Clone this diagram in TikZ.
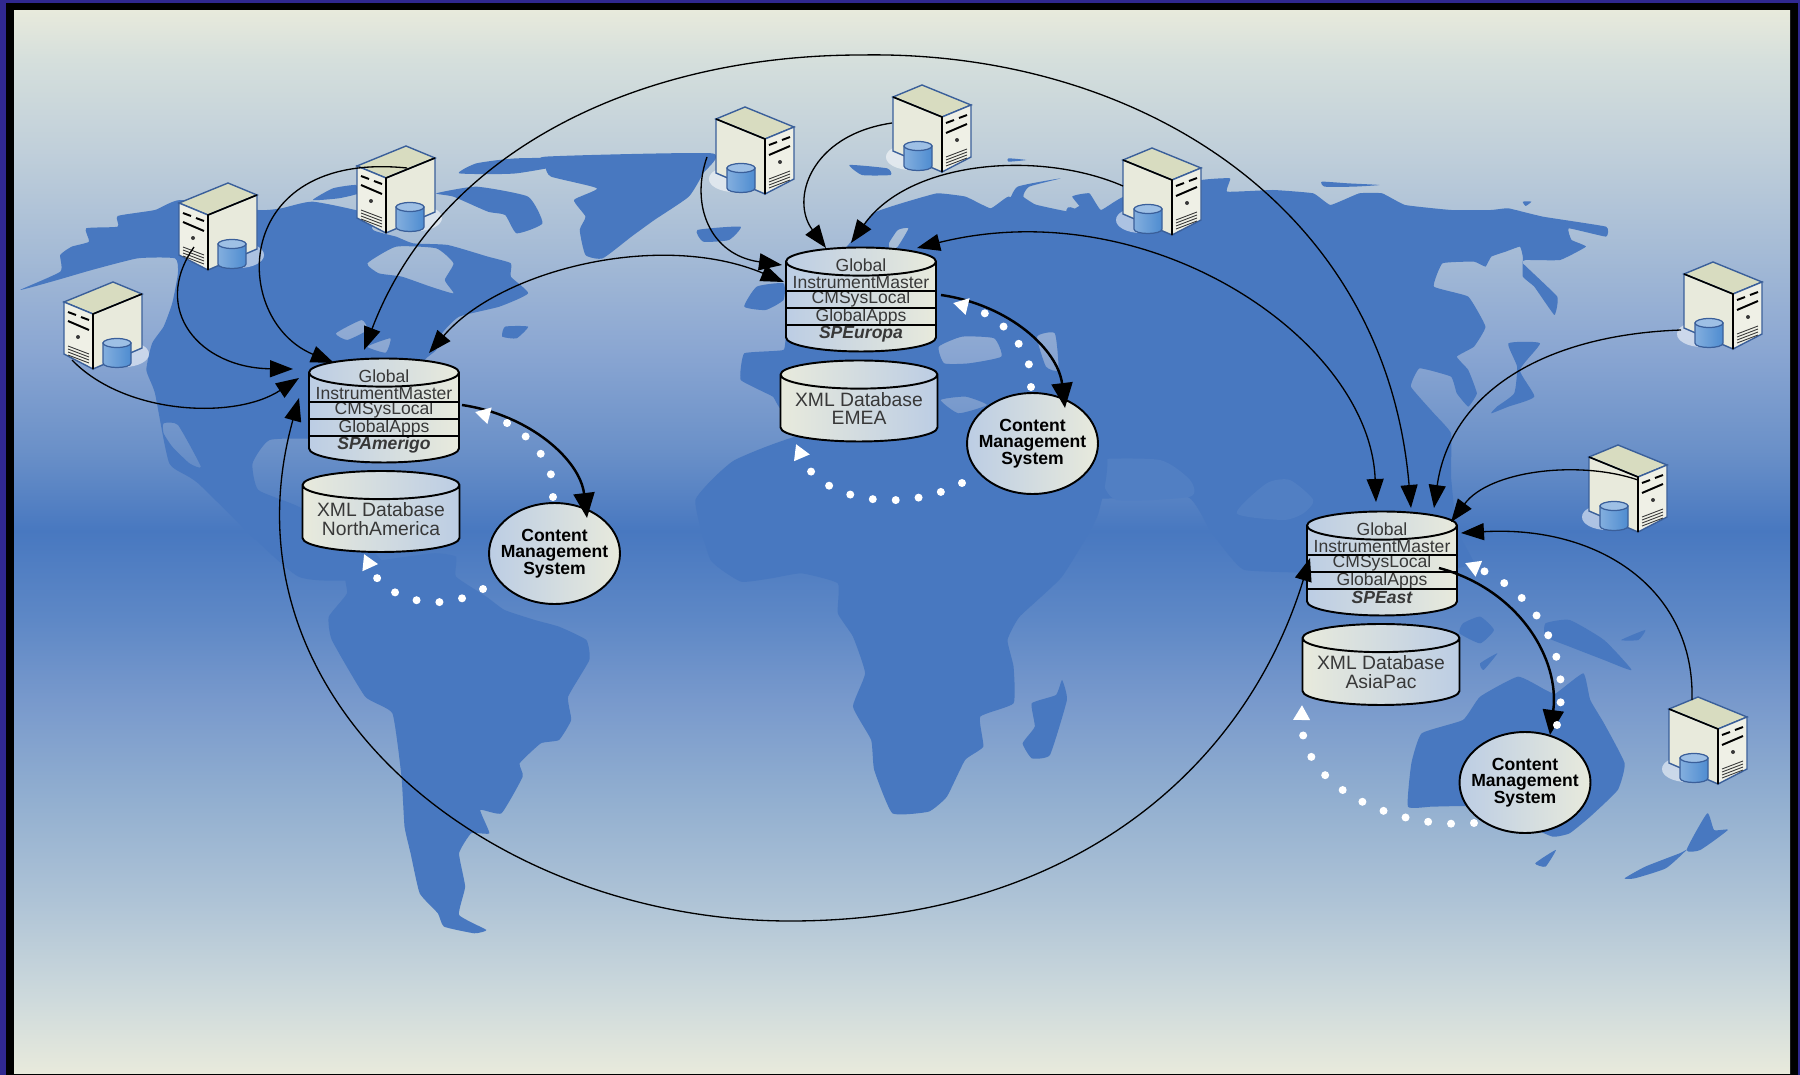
\documentclass[tikz,border=0pt]{standalone}
\usepackage{fontspec}
\setmainfont{Liberation Sans}
\usetikzlibrary{positioning,arrows.meta,shapes.geometric}

\definecolor{frameblue}{HTML}{302890}
\definecolor{mapblue}{HTML}{4878C0}
\definecolor{seapatch}{HTML}{517FC3}
\definecolor{shadeblue}{HTML}{BCCDE4}
\definecolor{shadecream}{HTML}{E8EADC}
\definecolor{labelgrey}{HTML}{383838}
\definecolor{srvedge}{HTML}{3A5F9A}
\definecolor{srvblue}{HTML}{4E8CD0}
\definecolor{srvtop}{HTML}{D8DCC0}
\definecolor{bandA}{HTML}{E8EADC}
\definecolor{bandB}{HTML}{D5DFDC}
\definecolor{bandC}{HTML}{C0CFDA}
\definecolor{bandD}{HTML}{A5BBD6}
\definecolor{bandE}{HTML}{8AA6D2}
\definecolor{bandF}{HTML}{6A90C8}
\definecolor{bandG}{HTML}{4878C0}
\definecolor{bandH}{HTML}{5E88C6}
\definecolor{bandI}{HTML}{7899CC}
\definecolor{bandJ}{HTML}{92AFD0}
\definecolor{bandK}{HTML}{AEC3D6}
\definecolor{bandL}{HTML}{CEDADC}

\pgfdeclareverticalshading{panelfade}{100bp}{%
  color(0bp)=(bandA); color(25bp)=(bandA); color(28.45bp)=(bandL); color(33.15bp)=(bandK); color(37.85bp)=(bandJ);
  color(42.55bp)=(bandI); color(46.3bp)=(bandH); color(50.5bp)=(bandG); color(54.25bp)=(bandF);
  color(58.95bp)=(bandE); color(63.65bp)=(bandD); color(68.35bp)=(bandC); color(72.65bp)=(bandB);
  color(75bp)=(bandA); color(100bp)=(bandA)}

\tikzset{%
  land/.style={fill=mapblue, even odd rule},
  patch/.style={fill=seapatch},
  stackdb/.style={cylinder, shape border rotate=90, draw=black, line width=1.1pt, aspect=.22,
    minimum width=3cm, minimum height=2.08cm, inner sep=0pt,
    left color=shadeblue, right color=shadecream, font=\fontsize{11}{10.6}\selectfont},
  xmldb/.style={cylinder, shape border rotate=90, draw=black, line width=1.1pt, aspect=.22,
    minimum width=3.14cm, minimum height=1.62cm, inner sep=0pt, align=center,
    left color=shadecream, right color=shadeblue, text=labelgrey,
    font=\fontsize{11}{10.6}\selectfont},
  cms/.style={ellipse, draw=black, line width=1.1pt, minimum width=2.62cm, minimum height=2.02cm,
    inner sep=0pt, inner xsep=-.16cm, align=center, left color=shadeblue, right color=shadecream,
    font=\fontsize{10}{9.5}\selectfont\bfseries},
  rowlabel/.style={minimum width=3cm, minimum height=.33cm, inner sep=0pt, text=labelgrey,
    font=\fontsize{10}{12}\selectfont},
  stackrule/.style={draw=black, line width=.9pt},
  srvbox/.style={minimum width=1.56cm, minimum height=1.72cm, inner sep=0pt},
  link/.style={draw=black, line width=.75pt, -{Triangle[length=.46cm,width=.34cm]}},
  twolink/.style={draw=black, line width=.75pt, {Triangle[length=.46cm,width=.34cm]}-{Triangle[length=.46cm,width=.34cm]}},
  feed/.style={draw=black, line width=1.4pt, -{Triangle[length=.5cm,width=.42cm]}},
  dots/.style={draw=white, line width=.16cm, line cap=round, dash pattern=on 0pt off .46cm,
    -{Triangle[length=.3cm,width=.32cm]}},
  srvtower/.pic={
    \fill[white, opacity=.55] (18,72) ellipse [x radius=25, y radius=13];
    \draw[srvedge, line width=.8pt, fill=srvtop] (0,12) -- (29,0) -- (78,20) -- (49,32) -- cycle;
    \draw[srvedge, line width=.8pt, fill=shadecream] (0,12) -- (49,32) -- (49,87) -- (0,66) -- cycle;
    \draw[srvedge, line width=.8pt, fill=shadecream!70!white] (49,32) -- (78,20) -- (78,72) -- (49,87) -- cycle;
    \draw[black, line width=.9pt] (0,12) -- (49,32) -- (49,87);
    \draw[black, line width=1.1pt] (53,38) -- (61,35) (66,33) -- (74,30) (53,48) -- (74,39);
    \fill[labelgrey] (64,55) circle [radius=2];
    \foreach \v in {64,67,70,73}
      \draw[labelgrey, line width=.5pt] (53,\v+8) -- (74,\v);
    \draw[srvedge, line width=.7pt, left color=srvblue!70!white, middle color=white, right color=srvblue]
      (11,61) -- (11,81) .. controls (11,87) and (39,87) .. (39,81) -- (39,61) -- cycle;
    \draw[srvedge, line width=.7pt, fill=srvblue!55!white] (25,61) ellipse [x radius=14, y radius=4.5];
  }
}

\begin{document}
\begin{tikzpicture}[x=.02cm, y=-.02cm]
  \useasboundingbox (0,0) rectangle (1800,1075);
  \fill[frameblue] (0,0) rectangle (1800,1075);
  \fill[black] (6,3) rectangle (1798,1075);
  \shade[shading=panelfade] (14,10) rectangle (1790,1073);

  % map, north america and the arctic
  \begin{scope}[shift={(0,130)}, xscale=.574, yscale=.3333]
    \fill[land] plot[smooth cycle, tension=.3] coordinates {(35,480) (105,425) (105,375) (125,350) (155,335) (150,295) (205,290) (205,258) (270,240) (315,210) (450,240) (490,235) (545,215) (640,250) (650,300) (690,320) (720,340) (780,345) (850,380) (890,400) (890,440) (920,490) (870,530) (800,560) (770,610) (760,660) (740,690) (700,800) (640,1000) (560,930) (470,930) (440,1000) (450,1080) (520,1130) (640,1250) (680,1340) (520,1340) (345,1060) (295,1000) (270,790) (255,720) (265,640) (285,590) (300,520) (310,430) (305,385) (240,385) (160,420) (100,450)}
      plot[smooth cycle, tension=.3] coordinates {(640,400) (690,350) (760,355) (790,400) (775,450) (790,490) (750,470) (700,440) (660,430)}
      plot[smooth cycle, tension=.3] coordinates {(285,880) (310,885) (350,1010) (330,1000) (300,950) (285,910)}
      plot[smooth cycle, tension=.3] coordinates {(585,610) (630,570) (640,600) (605,630)}
      plot[smooth cycle, tension=.3] coordinates {(640,650) (680,625) (672,668)};
    \fill[land] plot[smooth cycle, tension=.3] coordinates {(880,590) (920,590) (900,625) (875,620)};
    \fill[land] plot[smooth cycle, tension=.3] coordinates {(830,100) (900,85) (1040,85) (900,130) (800,130)};
    \fill[land] plot[smooth cycle, tension=.3] coordinates {(545,210) (580,175) (620,165) (625,190) (590,205)};
    \fill[land] plot[smooth cycle, tension=.3] coordinates {(760,190) (830,170) (920,200) (945,280) (900,310) (880,255) (850,245) (790,200)};
    \fill[land] plot[smooth cycle, tension=.3] coordinates {(950,80) (1240,70) (1225,130) (1200,200) (1140,270) (1100,320) (1050,385) (1020,375) (1010,300) (1020,260) (1000,210) (1040,175) (960,140) (950,110)};
    \fill[land] plot[smooth cycle, tension=.3] coordinates {(1215,300) (1290,290) (1270,330) (1225,335)};
  \end{scope}

  % map, europe
  \begin{scope}[shift={(680,80)}, xscale=.357, yscale=.3333]
    \fill[land] plot[smooth cycle, tension=.2] coordinates {(475,490) (540,400) (620,370) (720,340) (800,350) (870,385) (920,350) (1000,375) (1090,395) (1160,380) (1160,1100) (720,1100) (300,1000) (260,950) (170,900) (180,820) (290,810) (300,750) (390,740) (420,560)}
      plot[smooth cycle, tension=.3] coordinates {(585,490) (610,450) (640,445) (610,500) (590,510)}
      plot[smooth cycle, tension=.3] coordinates {(725,800) (790,770) (880,775) (900,830) (810,850) (740,850)}
      plot[smooth cycle, tension=.3] coordinates {(1000,770) (1050,760) (1060,870) (1025,860)}
      plot[smooth cycle, tension=.3] coordinates {(730,960) (800,950) (860,975) (780,1000)};
    \fill[land] plot[smooth cycle, tension=.3] coordinates {(180,680) (215,620) (290,610) (290,660) (240,690)};
    \fill[land] plot[smooth cycle, tension=.3] coordinates {(475,255) (580,265) (590,285) (510,285)};
    \fill[land] plot[smooth cycle, tension=.3] coordinates {(920,235) (970,240) (920,245)};
  \end{scope}

  % map, asia
  \begin{scope}[shift={(900,130)}, xscale=.574, yscale=.3333]
    \fill[land] plot[smooth cycle, tension=.2] coordinates {(290,240) (330,265) (300,200) (330,190) (350,240) (390,200) (525,150) (575,145) (570,185) (650,180) (720,190) (750,225) (800,190) (840,190) (880,225) (960,240) (1030,240) (1060,235) (1120,260) (1230,290) (1230,320) (1165,295) (1170,330) (1195,350) (1150,390) (1090,390) (1085,400) (1145,500) (1140,555) (1105,470) (1085,440) (1085,380) (1080,350) (1055,365) (1030,380) (1020,410) (1000,395) (945,400) (930,470) (990,500) (1020,590) (1000,650) (970,680) (990,720) (1005,790) (990,830) (970,790) (960,740) (905,715) (890,770) (930,850) (960,910) (960,1040) (970,1200) (1000,1300) (950,1320) (800,1330) (600,1320) (540,1200) (500,1100) (290,1100) (290,800)};
    \fill[land] plot[smooth cycle, tension=.3] coordinates {(1060,640) (1115,640) (1080,720) (1105,800) (1060,830) (1030,850) (1040,830) (1070,790) (1075,710)};
    \fill[land] plot[smooth cycle, tension=.3] coordinates {(735,155) (780,160) (835,165) (790,170) (740,170)};
    \fill[land] plot[smooth cycle, tension=.3] coordinates {(1085,215) (1100,215) (1090,228)};
    \fill[land] plot[smooth cycle, tension=.3] coordinates {(190,220) (205,170) (280,145) (225,170) (215,200) (240,230) (210,225)};
  \end{scope}

  % map, lighter water of the indian ocean
  \begin{scope}[shift={(1050,400)}, scale=.3333]
    \fill[patch] plot[smooth cycle, tension=.4] coordinates {(130,180) (330,180) (420,240) (420,290) (200,300) (150,230)};
    \fill[patch] plot[smooth cycle, tension=.4] coordinates {(560,340) (650,250) (720,240) (790,300) (760,340) (700,360)};
  \end{scope}

  % map, south america, africa
  \begin{scope}[shift={(250,500)}, xscale=.606, yscale=.3333]
    \fill[land] plot[smooth cycle, tension=.25] coordinates {(160,280) (130,350) (135,420) (190,590) (235,640) (250,830) (255,980) (265,1060) (280,1180) (310,1240) (320,1280) (370,1300) (390,1290) (345,1245) (355,1160) (345,1060) (365,1000) (395,1000) (380,930) (415,940) (450,830) (445,790) (480,730) (510,720) (530,660) (525,590) (560,480) (555,420) (510,380) (470,360) (420,330) (390,290) (340,230) (340,170) (300,160) (160,200)};
    \fill[land] plot[smooth cycle, tension=.25] coordinates {(735,0) (760,180) (810,245) (860,235) (910,220) (970,250) (970,340) (995,410) (1015,520) (995,620) (1025,720) (1030,810) (1060,940) (1120,935) (1150,890) (1180,780) (1210,740) (1205,650) (1260,610) (1260,500) (1250,420) (1270,350) (1340,230) (1400,40) (1400,-180) (950,-210) (800,-120)};
    \fill[land] plot[smooth cycle, tension=.25] coordinates {(1340,540) (1348,600) (1320,765) (1290,775) (1275,730) (1295,680) (1290,610) (1330,585)};
  \end{scope}

  % map, australia and the islands
  \begin{scope}[shift={(1260,430)}, xscale=.344, yscale=.3333]
    \fill[land] plot[smooth cycle, tension=.25] coordinates {(430,1130) (440,1000) (470,910) (590,870) (640,800) (750,740) (830,780) (860,790) (940,730) (960,810) (1000,880) (1060,1000) (1040,1080) (960,1160) (900,1210) (850,1220) (760,1180) (620,1130) (500,1130)};
    \fill[land] plot[smooth cycle, tension=.3] coordinates {(830,580) (900,570) (1000,630) (1080,720) (1000,690) (900,650) (830,620)};
    \fill[land] plot[smooth cycle, tension=.3] coordinates {(590,580) (640,560) (680,600) (640,640) (580,610)};
    \fill[land] plot[smooth cycle, tension=.3] coordinates {(640,700) (690,670) (650,720)};
    \fill[land] plot[smooth cycle, tension=.3] coordinates {(1050,630) (1120,600) (1100,630)};
    \fill[land] plot[smooth cycle, tension=.3] coordinates {(800,1300) (860,1260) (830,1310)};
    \fill[land] plot[smooth cycle, tension=.3] coordinates {(1240,1260) (1300,1150) (1320,1200) (1360,1200) (1280,1260)};
    \fill[land] plot[smooth cycle, tension=.3] coordinates {(1060,1345) (1120,1310) (1220,1270) (1240,1260) (1180,1315) (1090,1345)};
  \end{scope}

  % servers
  \foreach \n/\x/\y/\f in {NAa/142/282/-1, NAb/257/183/-1, NAc/435/146/-1,
      EUa/716/107/1, EUb/893/85/1, EUc/1123/148/1,
      ASa/1684/262/1, ASb/1589/445/1, ASc/1669/697/1} {
    \pic[xscale=\f] at (\x,\y) {srvtower};
    \node[srvbox] (srv\n) at (\x+\f*39,\y+43) {};
  }

  % the three sites
  \foreach \site/\sx/\sy/\xx/\xy/\cx/\cy/\spname/\xmlname in {
      Am/384/412/381/519/554.5/553.5/SPAmerigo/NorthAmerica,
      Eu/861/301/859/408.5/1032.5/443.5/SPEuropa/EMEA,
      As/1382/565/1381/672/1525/782.5/SPEast/AsiaPac} {
    \node[stackdb] (stack\site) at (\sx,\sy+6) {\phantom{XML Database}};
    \node[rowlabel] (rowGlobal\site) at (\sx,\sy-36) {Global};
    \node[rowlabel, below=0pt of rowGlobal\site] (rowMaster\site) {InstrumentMaster};
    \node[rowlabel, below=0pt of rowMaster\site] (rowLocal\site) {CMSysLocal};
    \node[rowlabel, below=0pt of rowLocal\site] (rowApps\site) {GlobalApps};
    \node[rowlabel, below=0pt of rowApps\site, font=\fontsize{10}{12}\selectfont\bfseries\itshape] (rowName\site) {\spname};
    \draw[stackrule] (rowLocal\site.north west) -- (rowLocal\site.north east);
    \draw[stackrule] (rowApps\site.north west) -- (rowApps\site.north east);
    \draw[stackrule] (rowName\site.north west) -- (rowName\site.north east);
    \node[xmldb] (xml\site) at (\xx,\xy) {XML Database\\\xmlname};
    \node[cms] (cms\site) at (\cx,\cy) {Content\\Management\\System};
  }

  % servers to their site
  \draw[link] ([shift={(-31,35)}]srvNAa.center) .. controls (125,415) and (235,420) .. ([shift={(-85,-40)}]stackAm.center);
  \draw[link] ([shift={(-24,21)}]srvNAb.center) .. controls (150,310) and (200,368) .. ([shift={(-91,-49)}]stackAm.center);
  \draw[link] ([shift={(11,-21)}]srvNAc.center) .. controls (230,150) and (230,320) .. ([shift={(-50,-55)}]stackAm.center);
  \draw[link] ([shift={(-48,7)}]srvEUa.center) .. controls (690,205) and (710,255) .. ([shift={(-79,-42)}]stackEu.center);
  \draw[link] ([shift={(-40,-5)}]srvEUb.center) .. controls (810,135) and (790,200) .. ([shift={(-35,-59)}]stackEu.center);
  \draw[link] ([shift={(-39,-5)}]srvEUc.center) .. controls (1040,150) and (910,160) .. ([shift={(-10,-64)}]stackEu.center);
  \draw[link] ([shift={(-42,25)}]srvASa.center) .. controls (1540,335) and (1450,395) .. ([shift={(52,-63)}]stackAs.center);
  \draw[link] ([shift={(10,-8)}]srvASb.center) .. controls (1580,460) and (1490,470) .. ([shift={(69,-49)}]stackAs.center);
  \draw[link] ([shift={(-16,-40)}]srvASc.center) .. controls (1695,590) and (1600,525) .. ([shift={(79,-38)}]stackAs.center);

  % sites to each other
  \coordinate (arcTop) at (861,55);
  \coordinate (arcBottom) at (790,921);
  \draw[twolink] ([shift={(-20,-68)}]stackAm.center) .. controls (440,150) and (640,55) .. (arcTop)
    .. controls (1130,50) and (1385,200) .. ([shift={(29,-63)}]stackAs.center);
  \draw[twolink] ([shift={(45,-65)}]stackAm.center) .. controls (500,270) and (660,230) .. ([shift={(-77,-25)}]stackEu.center);
  \draw[twolink] ([shift={(56,-59)}]stackEu.center) .. controls (1150,190) and (1370,340) .. ([shift={(-6,-69)}]stackAs.center);
  \draw[twolink] ([shift={(-85,-20)}]stackAm.center) .. controls (215,700) and (490,921) .. (arcBottom)
    .. controls (1070,921) and (1245,770) .. ([shift={(-72,-13)}]stackAs.center);

  % site to content management
  \draw[feed] ([shift={(78,-13)}]stackAm.center) .. controls (530,415) and (580,460) .. ([shift={(32.5,-35.5)}]cmsAm.center);
  \draw[feed] ([shift={(80,-12)}]stackEu.center) .. controls (1010,305) and (1058,350) .. ([shift={(32.5,-35.5)}]cmsEu.center);
  \draw[feed] ([shift={(57,-3)}]stackAs.center) .. controls (1520,590) and (1560,660) .. ([shift={(25,-47.5)}]cmsAs.center);

  % content management back to site and xml
  \draw[dots] ([shift={(-1.5,-56.5)}]cmsAm.center) .. controls (558,465) and (525,425) .. ([shift={(91,-6)}]stackAm.center);
  \draw[dots] ([shift={(-71.5,35.5)}]cmsAm.center) .. controls (440,615) and (385,600) .. ([shift={(-17,35)}]xmlAm.center);
  \draw[dots] ([shift={(-1.5,-56.5)}]cmsEu.center) .. controls (1036,355) and (1003,315) .. ([shift={(92,-4)}]stackEu.center);
  \draw[dots] ([shift={(-70.5,39.5)}]cmsEu.center) .. controls (900,515) and (820,500) .. ([shift={(-63,35.5)}]xmlEu.center);
  \draw[dots] ([shift={(32,-57.5)}]cmsAs.center) .. controls (1575,650) and (1530,590) .. ([shift={(83,-8)}]stackAs.center);
  \draw[dots] ([shift={(-51,40.5)}]cmsAs.center) .. controls (1400,830) and (1300,790) .. ([shift={(-79,33)}]xmlAs.center);
\end{tikzpicture}
\end{document}
